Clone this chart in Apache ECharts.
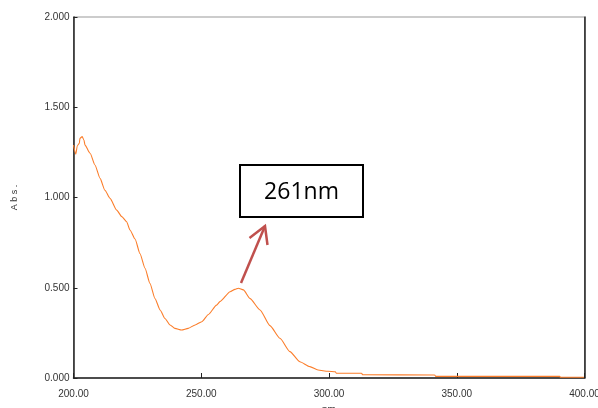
<!DOCTYPE html>
<html>
<head>
<meta charset="utf-8">
<script src="https://cdn.jsdelivr.net/npm/echarts@6/dist/echarts.min.js"></script>
<style>html,body{margin:0;padding:0;background:#fff}#c{width:598px;height:408px}</style>
</head>
<body>
<div id="c"></div>
<script>
// Wavelength (nm)
var wavelengths = [200.0,200.9,201.5,202.3,202.5,203.4,204.1,204.5,206.5,208.4,210.4,212.3,214.3,216.9,218.9,220.8,222.1,224.1,226.0,228.0,229.9,231.9,233.9,235.8,237.8,239.7,242.3,244.9,247.6,250.2,252.8,256.0,257.3,261.3,263.2,264.5,266.5,269.1,273.0,276.9,280.8,284.7,288.6,292.5,295.7,299.6,302.5,302.8,312.8,313.1,341.4,341.7,390.3,390.6,399.8];
// Absorbance
var absorbance = [1.29,1.24,1.287,1.30,1.328,1.337,1.318,1.29,1.245,1.18,1.106,1.04,0.995,0.93,0.894,0.866,0.82,0.77,0.69,0.608,0.525,0.44,0.377,0.33,0.294,0.275,0.266,0.275,0.294,0.312,0.352,0.404,0.423,0.478,0.491,0.497,0.488,0.44,0.377,0.29,0.22,0.146,0.09,0.063,0.044,0.037,0.035,0.027,0.026,0.018,0.017,0.009,0.009,0.004,0.004];
var xTicks = [200, 250, 300, 350, 400];
var yTicks = [0, 0.5, 1.0, 1.5, 2.0];
var annotationText = '261nm';

var pts = wavelengths.map(function(w, i){ return [w, absorbance[i]]; });
var chart = echarts.init(document.getElementById('c'), null, {renderer:'canvas'});
var labelStyle = {color:'#333', fontSize:10, fontFamily:'Liberation Sans, Arial, sans-serif'};
chart.setOption({
  animation:false,
  backgroundColor:'#fff',
  grid:{left:73.5, right:13.5, top:17, bottom:30, show:true, borderColor:'#999', borderWidth:1, containLabel:false, outerBoundsMode:'none'},
  xAxis:{
    type:'value', min:xTicks[0], max:xTicks[xTicks.length-1], interval:50,
    name:'nm', nameLocation:'middle', nameGap:27,
    nameTextStyle:{color:'#333', fontSize:10, fontFamily:'Liberation Sans, Arial, sans-serif'},
    axisLine:{show:true, onZero:false, lineStyle:{color:'#222', width:1.5}},
    axisTick:{show:true, inside:true, length:5, lineStyle:{color:'#222'}},
    axisLabel:Object.assign({margin:11, formatter:function(v){return v.toFixed(2);}}, labelStyle),
    splitLine:{show:false}
  },
  yAxis:[{
    type:'value', min:yTicks[0], max:yTicks[yTicks.length-1], interval:0.5,
    name:'A b s .', nameLocation:'middle', nameGap:54, nameRotate:90,
    nameTextStyle:{color:'#333', fontSize:9, fontFamily:'Liberation Sans, Arial, sans-serif'},
    axisLine:{show:true, onZero:false, lineStyle:{color:'#222', width:1.5}},
    axisTick:{show:true, inside:true, length:4, lineStyle:{color:'#222'}},
    axisLabel:Object.assign({margin:4, formatter:function(v){return v.toFixed(3);}}, labelStyle),
    splitLine:{show:false}
  },{
    type:'value', min:0, max:2, position:'right',
    axisLine:{show:true, lineStyle:{color:'#222', width:1.5}},
    axisTick:{show:false}, axisLabel:{show:false}, splitLine:{show:false}
  }],
  series:[{
    type:'line', data:pts, showSymbol:false, symbol:'none',
    smooth:0.2, smoothMonotone:'x',
    lineStyle:{color:'#fb7d2a', width:1.1}
  }],
  graphic:[
    {type:'rect', shape:{x:240, y:165, width:123, height:52}, style:{fill:'#fff', stroke:'#000', lineWidth:2}, z:100},
    {type:'text', x:301.5, y:192, style:{text:annotationText, fill:'#000', font:'23px "Open Sans", sans-serif', textAlign:'center', textVerticalAlign:'middle'}, z:101},
    {type:'polyline', shape:{points:[[241,283],[265,226]]}, style:{stroke:'#c0504d', lineWidth:2.5, fill:null}, z:100},
    {type:'polyline', shape:{points:[[249.5,238],[265,226],[267.5,245]]}, style:{stroke:'#c0504d', lineWidth:2.5, fill:null}, z:100}
  ]
});
</script>
</body>
</html>
